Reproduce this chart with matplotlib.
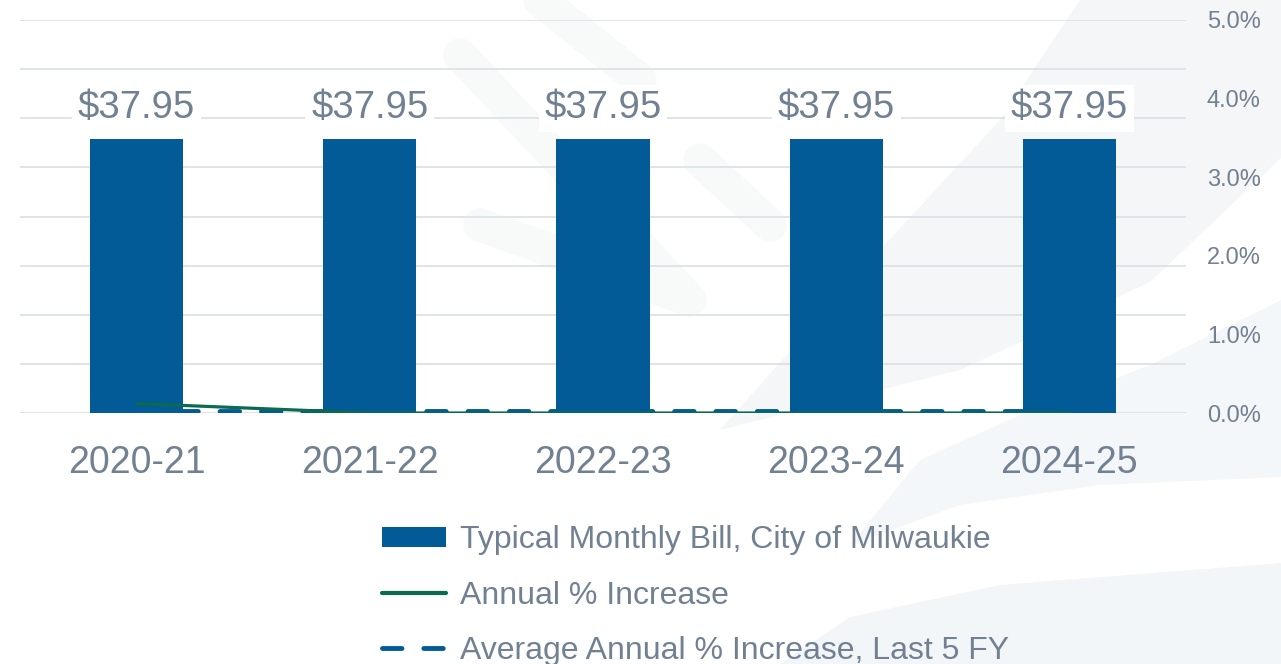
import numpy as np
import matplotlib
matplotlib.use("Agg")
import matplotlib.pyplot as plt
from matplotlib.patches import Polygon
from matplotlib.lines import Line2D

# data
years = ["2020-21", "2021-22", "2022-23", "2023-24", "2024-25"]
monthly_bill = [37.95, 37.95, 37.95, 37.95, 37.95]
annual_pct = [0.12, 0.0, 0.0, 0.0, 0.0]
avg_pct = [0.025, 0.025, 0.025, 0.025, 0.025]
pct_ticks = [0, 1, 2, 3, 4, 5]

bar_color = "#025a96"
green = "#0c6a50"
text_color = "#718192"
grid_color = "#dde2e7"

plt.rcParams["font.family"] = ["Liberation Sans", "DejaVu Sans"]

fig = plt.figure(figsize=(12.81, 6.64), dpi=100)

# faint watermark shapes in the background (pixel coords)
bg = fig.add_axes([0, 0, 1, 1], zorder=-5)
bg.set_xlim(0, 1281)
bg.set_ylim(664, 0)
bg.axis("off")
bg.add_patch(Polygon([(720, 430), (880, 250), (1000, 120), (1080, 0), (1281, 0),
                      (1281, 158), (1150, 282), (960, 370)],
                     closed=True, fc="#f5f6f7", ec="none"))
bg.add_patch(Polygon([(1281, 300), (1281, 477), (1100, 485), (960, 505), (850, 545),
                      (920, 460), (1020, 415), (1150, 365)],
                     closed=True, fc="#f4f7f9", ec="none"))
bg.add_patch(Polygon([(1281, 563), (1281, 664), (780, 664), (850, 617), (1000, 585)],
                     closed=True, fc="#f2f6f9", ec="none"))
for (x0, y0), (x1, y1) in [((460, 55), (690, 300)), ((700, 160), (770, 225)),
                           ((480, 225), (690, 300)), ((540, 0), (640, 80))]:
    bg.plot([x0, x1], [y0, y1], color="#f8f9f9", lw=24, solid_capstyle="round")

ax = fig.add_axes([20 / 1281, 1 - 413 / 664, 1166 / 1281, 393 / 664])
ax.patch.set_alpha(0)
x = np.arange(len(years))
bars = ax.bar(x, monthly_bill, width=0.4, color=bar_color, zorder=2)
top = 54.43
ax.set_ylim(0, top)
ax.set_xlim(-0.5, len(years) - 0.5)
ax.set_yticks(np.linspace(0, top, 9))
ax.grid(axis="y", color=grid_color, lw=1.3, zorder=0)
ax.set_axisbelow(True)
ax.set_xticks(x)
ax.set_xticklabels(years, fontsize=27, color=text_color)
for s in ax.spines.values():
    s.set_visible(False)

for i, v in enumerate(monthly_bill):
    ax.annotate(f"${v:.2f}", (i, v), xytext=(0, 22), textcoords="offset points",
                ha="center", va="center", fontsize=27.5, color=text_color, zorder=3,
                bbox=dict(boxstyle="square,pad=0.15", fc="white", ec="none"))

ax2 = ax.twinx()
ax2.set_ylim(0, 5)
ax2.set_yticks(pct_ticks)
ax2.set_yticklabels([f"{t:.1f}%" for t in pct_ticks], fontsize=17, color=text_color)
ax2.tick_params(axis="y", length=0, pad=15)
for s in ax2.spines.values():
    s.set_visible(False)

# twinx turns the left ticks back on, so hide them here
ax.tick_params(axis="y", left=False, right=False, labelleft=False, labelright=False)
ax.tick_params(axis="x", length=0, pad=23)

avg_line, = ax2.plot(x, avg_pct, color=bar_color, lw=3.5, linestyle=(0, (4, 4.5)),
                     dash_capstyle="round")
ann_line, = ax2.plot(x, annual_pct, color=green, lw=2.3, solid_capstyle="round")

leg_avg = Line2D([], [], color=bar_color, lw=3.5, linestyle=(0, (4, 4.5)),
                 dash_capstyle="round")
leg_ann = Line2D([], [], color=green, lw=3, solid_capstyle="round")
fig.legend([bars, leg_ann, leg_avg],
           ["Typical Monthly Bill, City of Milwaukie", "Annual % Increase",
            "Average Annual % Increase, Last 5 FY"],
           loc="upper left", bbox_to_anchor=(382 / 1281, 1 - 525 / 664),
           frameon=False, fontsize=23, labelcolor=text_color, labelspacing=0.8,
           handlelength=2.0, handleheight=0.6, handletextpad=0.45,
           borderpad=0, borderaxespad=0)

fig.savefig("out.png", dpi=100)
